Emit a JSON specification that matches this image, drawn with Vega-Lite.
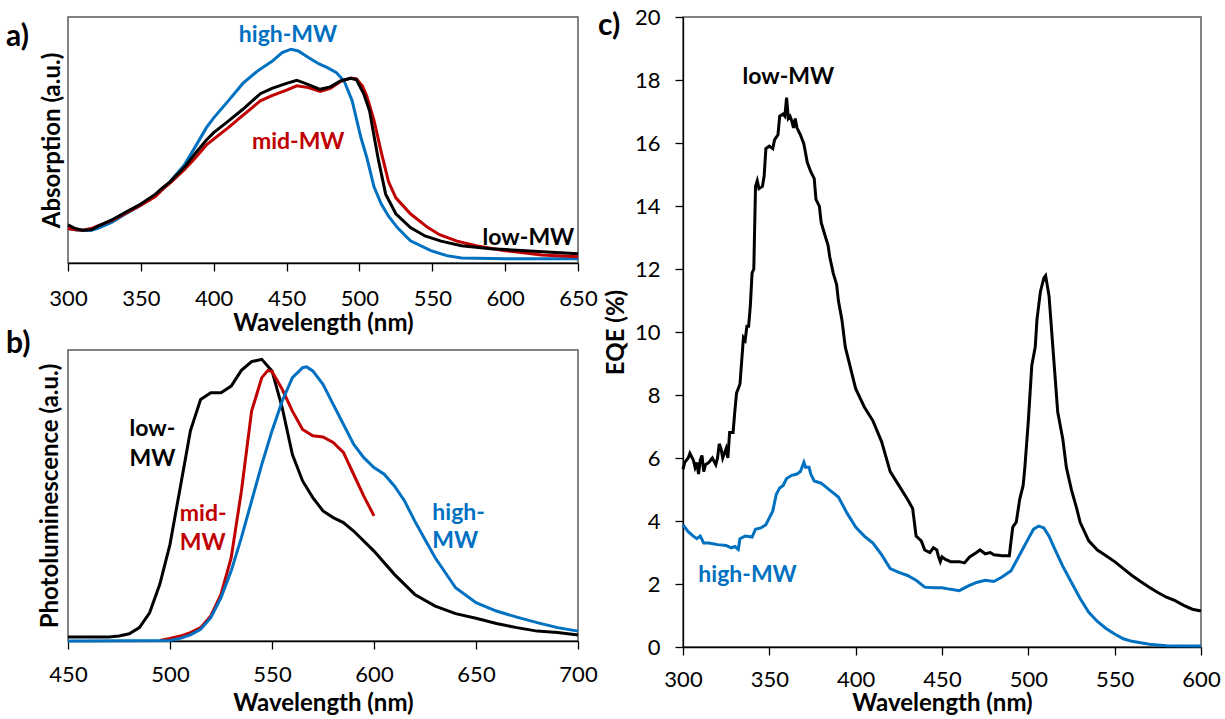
{
  "$schema": "https://vega.github.io/schema/vega-lite/v6.json",
  "padding": {"left": 5, "top": 5, "right": 2, "bottom": 0},
  "background": "white",
  "spacing": -1,
  "config": {
    "font": "Lato",
    "view": {"stroke": "#595959", "strokeWidth": 1.5},
    "axis": {"labelFont": "Lato", "titleFont": "Lato", "labelFontSize": 22, "titleFontSize": 24, "titleFontWeight": "bold", "labelColor": "#000", "titleColor": "#000", "grid": false, "tickSize": 8, "tickColor": "#000", "domainColor": "#000", "tickWidth": 1.3, "domainWidth": 1.3, "labelFlush": false, "labelOverlap": false},
    "title": {"font": "Lato", "fontSize": 30, "fontWeight": "bold", "color": "#000", "anchor": "start", "frame": "group", "offset": 0, "baseline": "alphabetic"}
  },
  "datasets": {
    "abs": [
      {"w":300,"v":0.14,"s":"high-MW"},{"w":305,"v":0.135,"s":"high-MW"},{"w":310,"v":0.132,"s":"high-MW"},{"w":316,"v":0.133,"s":"high-MW"},{"w":320,"v":0.14,"s":"high-MW"},{"w":330,"v":0.165,"s":"high-MW"},{"w":341,"v":0.205,"s":"high-MW"},{"w":350,"v":0.235,"s":"high-MW"},{"w":360,"v":0.275,"s":"high-MW"},{"w":365,"v":0.3,"s":"high-MW"},{"w":370,"v":0.33,"s":"high-MW"},{"w":380,"v":0.4,"s":"high-MW"},{"w":387,"v":0.469,"s":"high-MW"},{"w":395,"v":0.55,"s":"high-MW"},{"w":400,"v":0.59,"s":"high-MW"},{"w":410,"v":0.659,"s":"high-MW"},{"w":420,"v":0.73,"s":"high-MW"},{"w":430,"v":0.78,"s":"high-MW"},{"w":440,"v":0.82,"s":"high-MW"},{"w":447,"v":0.855,"s":"high-MW"},{"w":453,"v":0.869,"s":"high-MW"},{"w":458,"v":0.862,"s":"high-MW"},{"w":465,"v":0.835,"s":"high-MW"},{"w":472,"v":0.81,"s":"high-MW"},{"w":478,"v":0.794,"s":"high-MW"},{"w":484,"v":0.775,"s":"high-MW"},{"w":489.5,"v":0.74,"s":"high-MW"},{"w":495,"v":0.66,"s":"high-MW"},{"w":501,"v":0.51,"s":"high-MW"},{"w":505,"v":0.43,"s":"high-MW"},{"w":510,"v":0.31,"s":"high-MW"},{"w":515,"v":0.24,"s":"high-MW"},{"w":520,"v":0.19,"s":"high-MW"},{"w":526,"v":0.144,"s":"high-MW"},{"w":535,"v":0.09,"s":"high-MW"},{"w":549,"v":0.05,"s":"high-MW"},{"w":560,"v":0.03,"s":"high-MW"},{"w":570,"v":0.02,"s":"high-MW"},{"w":600,"v":0.017,"s":"high-MW"},{"w":650,"v":0.017,"s":"high-MW"},
      {"w":300,"v":0.14,"s":"mid-MW"},{"w":305,"v":0.135,"s":"mid-MW"},{"w":310,"v":0.133,"s":"mid-MW"},{"w":316,"v":0.14,"s":"mid-MW"},{"w":320,"v":0.15,"s":"mid-MW"},{"w":330,"v":0.172,"s":"mid-MW"},{"w":341,"v":0.207,"s":"mid-MW"},{"w":350,"v":0.235,"s":"mid-MW"},{"w":360,"v":0.27,"s":"mid-MW"},{"w":365,"v":0.3,"s":"mid-MW"},{"w":370,"v":0.325,"s":"mid-MW"},{"w":380,"v":0.38,"s":"mid-MW"},{"w":387,"v":0.425,"s":"mid-MW"},{"w":395,"v":0.48,"s":"mid-MW"},{"w":410,"v":0.55,"s":"mid-MW"},{"w":420,"v":0.6,"s":"mid-MW"},{"w":432,"v":0.659,"s":"mid-MW"},{"w":440,"v":0.68,"s":"mid-MW"},{"w":450,"v":0.703,"s":"mid-MW"},{"w":457,"v":0.72,"s":"mid-MW"},{"w":465,"v":0.713,"s":"mid-MW"},{"w":473,"v":0.697,"s":"mid-MW"},{"w":480,"v":0.71,"s":"mid-MW"},{"w":487,"v":0.738,"s":"mid-MW"},{"w":494,"v":0.752,"s":"mid-MW"},{"w":498,"v":0.748,"s":"mid-MW"},{"w":502,"v":0.72,"s":"mid-MW"},{"w":505,"v":0.68,"s":"mid-MW"},{"w":510,"v":0.58,"s":"mid-MW"},{"w":515,"v":0.45,"s":"mid-MW"},{"w":520,"v":0.33,"s":"mid-MW"},{"w":525,"v":0.265,"s":"mid-MW"},{"w":535,"v":0.2,"s":"mid-MW"},{"w":547,"v":0.144,"s":"mid-MW"},{"w":555,"v":0.115,"s":"mid-MW"},{"w":567,"v":0.089,"s":"mid-MW"},{"w":580,"v":0.07,"s":"mid-MW"},{"w":600,"v":0.05,"s":"mid-MW"},{"w":625,"v":0.033,"s":"mid-MW"},{"w":650,"v":0.025,"s":"mid-MW"},
      {"w":300,"v":0.155,"s":"low-MW"},{"w":305,"v":0.14,"s":"low-MW"},{"w":310,"v":0.133,"s":"low-MW"},{"w":316,"v":0.135,"s":"low-MW"},{"w":320,"v":0.148,"s":"low-MW"},{"w":330,"v":0.175,"s":"low-MW"},{"w":341,"v":0.211,"s":"low-MW"},{"w":350,"v":0.24,"s":"low-MW"},{"w":360,"v":0.28,"s":"low-MW"},{"w":365,"v":0.306,"s":"low-MW"},{"w":370,"v":0.33,"s":"low-MW"},{"w":380,"v":0.39,"s":"low-MW"},{"w":387,"v":0.443,"s":"low-MW"},{"w":395,"v":0.5,"s":"low-MW"},{"w":400,"v":0.53,"s":"low-MW"},{"w":410,"v":0.577,"s":"low-MW"},{"w":420,"v":0.625,"s":"low-MW"},{"w":432,"v":0.688,"s":"low-MW"},{"w":440,"v":0.71,"s":"low-MW"},{"w":450,"v":0.73,"s":"low-MW"},{"w":457,"v":0.743,"s":"low-MW"},{"w":465,"v":0.725,"s":"low-MW"},{"w":473,"v":0.706,"s":"low-MW"},{"w":480,"v":0.716,"s":"low-MW"},{"w":487,"v":0.74,"s":"low-MW"},{"w":494,"v":0.751,"s":"low-MW"},{"w":498,"v":0.745,"s":"low-MW"},{"w":503,"v":0.687,"s":"low-MW"},{"w":507,"v":0.618,"s":"low-MW"},{"w":509,"v":0.55,"s":"low-MW"},{"w":513,"v":0.42,"s":"low-MW"},{"w":518,"v":0.28,"s":"low-MW"},{"w":525,"v":0.2,"s":"low-MW"},{"w":535,"v":0.144,"s":"low-MW"},{"w":545,"v":0.11,"s":"low-MW"},{"w":556,"v":0.089,"s":"low-MW"},{"w":570,"v":0.07,"s":"low-MW"},{"w":590,"v":0.058,"s":"low-MW"},{"w":620,"v":0.048,"s":"low-MW"},{"w":650,"v":0.038,"s":"low-MW"}
    ],
    "absLabels": [
      {"w":451,"v":0.925,"t":"high-MW","s":"high-MW"},
      {"w":458,"v":0.49,"t":"mid-MW","s":"mid-MW"},
      {"w":616,"v":0.1,"t":"low-MW","s":"low-MW"}
    ],
    "pl": [
      {"w":450,"v":0.014,"s":"low-MW"},{"w":470,"v":0.014,"s":"low-MW"},{"w":475,"v":0.017,"s":"low-MW"},{"w":480,"v":0.025,"s":"low-MW"},{"w":485,"v":0.046,"s":"low-MW"},{"w":490,"v":0.097,"s":"low-MW"},{"w":495,"v":0.195,"s":"low-MW"},{"w":500,"v":0.332,"s":"low-MW"},{"w":505,"v":0.527,"s":"low-MW"},{"w":510,"v":0.722,"s":"low-MW"},{"w":515,"v":0.83,"s":"low-MW"},{"w":520,"v":0.853,"s":"low-MW"},{"w":525,"v":0.853,"s":"low-MW"},{"w":530,"v":0.876,"s":"low-MW"},{"w":535,"v":0.93,"s":"low-MW"},{"w":540,"v":0.96,"s":"low-MW"},{"w":545,"v":0.968,"s":"low-MW"},{"w":550,"v":0.928,"s":"low-MW"},{"w":555,"v":0.802,"s":"low-MW"},{"w":560,"v":0.641,"s":"low-MW"},{"w":565,"v":0.55,"s":"low-MW"},{"w":570,"v":0.493,"s":"low-MW"},{"w":575,"v":0.447,"s":"low-MW"},{"w":580,"v":0.424,"s":"low-MW"},{"w":585,"v":0.407,"s":"low-MW"},{"w":590,"v":0.378,"s":"low-MW"},{"w":600,"v":0.309,"s":"low-MW"},{"w":610,"v":0.229,"s":"low-MW"},{"w":620,"v":0.16,"s":"low-MW"},{"w":630,"v":0.12,"s":"low-MW"},{"w":640,"v":0.094,"s":"low-MW"},{"w":650,"v":0.078,"s":"low-MW"},{"w":660,"v":0.06,"s":"low-MW"},{"w":670,"v":0.046,"s":"low-MW"},{"w":680,"v":0.034,"s":"low-MW"},{"w":690,"v":0.029,"s":"low-MW"},{"w":700,"v":0.021,"s":"low-MW"},
      {"w":495,"v":0.002,"s":"mid-MW"},{"w":500,"v":0.009,"s":"mid-MW"},{"w":505,"v":0.017,"s":"mid-MW"},{"w":510,"v":0.029,"s":"mid-MW"},{"w":515,"v":0.046,"s":"mid-MW"},{"w":520,"v":0.086,"s":"mid-MW"},{"w":525,"v":0.16,"s":"mid-MW"},{"w":530,"v":0.286,"s":"mid-MW"},{"w":535,"v":0.515,"s":"mid-MW"},{"w":540,"v":0.79,"s":"mid-MW"},{"w":545,"v":0.905,"s":"mid-MW"},{"w":548,"v":0.93,"s":"mid-MW"},{"w":550,"v":0.926,"s":"mid-MW"},{"w":555,"v":0.865,"s":"mid-MW"},{"w":560,"v":0.79,"s":"mid-MW"},{"w":565,"v":0.727,"s":"mid-MW"},{"w":570,"v":0.705,"s":"mid-MW"},{"w":575,"v":0.701,"s":"mid-MW"},{"w":580,"v":0.682,"s":"mid-MW"},{"w":585,"v":0.648,"s":"mid-MW"},{"w":590,"v":0.573,"s":"mid-MW"},{"w":595,"v":0.498,"s":"mid-MW"},{"w":600,"v":0.43,"s":"mid-MW"},
      {"w":450,"v":0.0,"s":"high-MW"},{"w":500,"v":0.002,"s":"high-MW"},{"w":505,"v":0.009,"s":"high-MW"},{"w":510,"v":0.021,"s":"high-MW"},{"w":515,"v":0.04,"s":"high-MW"},{"w":520,"v":0.08,"s":"high-MW"},{"w":525,"v":0.149,"s":"high-MW"},{"w":530,"v":0.241,"s":"high-MW"},{"w":535,"v":0.355,"s":"high-MW"},{"w":540,"v":0.481,"s":"high-MW"},{"w":545,"v":0.607,"s":"high-MW"},{"w":550,"v":0.722,"s":"high-MW"},{"w":555,"v":0.825,"s":"high-MW"},{"w":560,"v":0.905,"s":"high-MW"},{"w":565,"v":0.939,"s":"high-MW"},{"w":567,"v":0.942,"s":"high-MW"},{"w":570,"v":0.928,"s":"high-MW"},{"w":575,"v":0.882,"s":"high-MW"},{"w":580,"v":0.813,"s":"high-MW"},{"w":585,"v":0.745,"s":"high-MW"},{"w":590,"v":0.676,"s":"high-MW"},{"w":595,"v":0.63,"s":"high-MW"},{"w":600,"v":0.596,"s":"high-MW"},{"w":605,"v":0.573,"s":"high-MW"},{"w":610,"v":0.533,"s":"high-MW"},{"w":615,"v":0.481,"s":"high-MW"},{"w":620,"v":0.412,"s":"high-MW"},{"w":625,"v":0.349,"s":"high-MW"},{"w":630,"v":0.286,"s":"high-MW"},{"w":640,"v":0.183,"s":"high-MW"},{"w":650,"v":0.132,"s":"high-MW"},{"w":660,"v":0.103,"s":"high-MW"},{"w":670,"v":0.082,"s":"high-MW"},{"w":680,"v":0.063,"s":"high-MW"},{"w":690,"v":0.046,"s":"high-MW"},{"w":700,"v":0.034,"s":"high-MW"}
    ],
    "plLabels": [
      {"w":480.2,"v":0.729,"t":"low-","s":"low-MW"},
      {"w":480.2,"v":0.625,"t":"MW","s":"low-MW"},
      {"w":504.8,"v":0.436,"t":"mid-","s":"mid-MW"},
      {"w":504.8,"v":0.338,"t":"MW","s":"mid-MW"},
      {"w":628.6,"v":0.441,"t":"high-","s":"high-MW"},
      {"w":628.6,"v":0.344,"t":"MW","s":"high-MW"}
    ],
    "eqe": [
      {"w":300,"v":5.64,"s":"low-MW"},{"w":301,"v":5.86,"s":"low-MW"},{"w":303,"v":6.0,"s":"low-MW"},{"w":304,"v":6.15,"s":"low-MW"},{"w":306,"v":5.93,"s":"low-MW"},{"w":307,"v":5.7,"s":"low-MW"},{"w":308,"v":5.86,"s":"low-MW"},{"w":309,"v":5.49,"s":"low-MW"},{"w":310,"v":5.93,"s":"low-MW"},{"w":311,"v":6.08,"s":"low-MW"},{"w":312,"v":5.57,"s":"low-MW"},{"w":313,"v":5.79,"s":"low-MW"},{"w":315,"v":5.86,"s":"low-MW"},{"w":317,"v":6.0,"s":"low-MW"},{"w":319,"v":5.79,"s":"low-MW"},{"w":320,"v":6.0,"s":"low-MW"},{"w":321,"v":6.45,"s":"low-MW"},{"w":322,"v":6.3,"s":"low-MW"},{"w":323,"v":6.0,"s":"low-MW"},{"w":325,"v":6.3,"s":"low-MW"},{"w":326,"v":6.0,"s":"low-MW"},{"w":327,"v":6.81,"s":"low-MW"},{"w":329,"v":6.81,"s":"low-MW"},{"w":330,"v":7.47,"s":"low-MW"},{"w":331,"v":8.06,"s":"low-MW"},{"w":333,"v":8.35,"s":"low-MW"},{"w":334,"v":9.08,"s":"low-MW"},{"w":335,"v":9.82,"s":"low-MW"},{"w":336,"v":9.74,"s":"low-MW"},{"w":337,"v":10.18,"s":"low-MW"},{"w":338,"v":10.18,"s":"low-MW"},{"w":339,"v":10.84,"s":"low-MW"},{"w":340,"v":11.87,"s":"low-MW"},{"w":341,"v":12.0,"s":"low-MW"},{"w":342,"v":14.62,"s":"low-MW"},{"w":343,"v":14.8,"s":"low-MW"},{"w":344,"v":14.55,"s":"low-MW"},{"w":346,"v":14.62,"s":"low-MW"},{"w":347,"v":14.95,"s":"low-MW"},{"w":348,"v":15.82,"s":"low-MW"},{"w":350,"v":15.9,"s":"low-MW"},{"w":352,"v":15.82,"s":"low-MW"},{"w":353,"v":16.1,"s":"low-MW"},{"w":355,"v":16.26,"s":"low-MW"},{"w":356,"v":16.85,"s":"low-MW"},{"w":358,"v":16.92,"s":"low-MW"},{"w":359,"v":16.85,"s":"low-MW"},{"w":360,"v":17.44,"s":"low-MW"},{"w":361,"v":16.78,"s":"low-MW"},{"w":362,"v":16.85,"s":"low-MW"},{"w":363,"v":16.7,"s":"low-MW"},{"w":364,"v":16.48,"s":"low-MW"},{"w":365,"v":16.78,"s":"low-MW"},{"w":366,"v":16.48,"s":"low-MW"},{"w":368,"v":16.26,"s":"low-MW"},{"w":370,"v":15.97,"s":"low-MW"},{"w":372,"v":15.38,"s":"low-MW"},{"w":374,"v":15.09,"s":"low-MW"},{"w":376,"v":14.87,"s":"low-MW"},{"w":377,"v":14.21,"s":"low-MW"},{"w":379,"v":13.99,"s":"low-MW"},{"w":380,"v":13.48,"s":"low-MW"},{"w":382,"v":13.11,"s":"low-MW"},{"w":384,"v":12.75,"s":"low-MW"},{"w":385,"v":12.38,"s":"low-MW"},{"w":387,"v":11.87,"s":"low-MW"},{"w":389,"v":11.5,"s":"low-MW"},{"w":390,"v":10.99,"s":"low-MW"},{"w":392,"v":10.4,"s":"low-MW"},{"w":394,"v":9.52,"s":"low-MW"},{"w":396,"v":9.08,"s":"low-MW"},{"w":398,"v":8.64,"s":"low-MW"},{"w":400,"v":8.2,"s":"low-MW"},{"w":405,"v":7.62,"s":"low-MW"},{"w":410,"v":7.18,"s":"low-MW"},{"w":415,"v":6.52,"s":"low-MW"},{"w":420,"v":5.57,"s":"low-MW"},{"w":425,"v":5.13,"s":"low-MW"},{"w":430,"v":4.69,"s":"low-MW"},{"w":433,"v":4.4,"s":"low-MW"},{"w":434,"v":3.96,"s":"low-MW"},{"w":435,"v":3.52,"s":"low-MW"},{"w":438,"v":3.37,"s":"low-MW"},{"w":440,"v":3.08,"s":"low-MW"},{"w":443,"v":3.0,"s":"low-MW"},{"w":445,"v":3.15,"s":"low-MW"},{"w":447,"v":3.08,"s":"low-MW"},{"w":448,"v":2.86,"s":"low-MW"},{"w":449,"v":2.71,"s":"low-MW"},{"w":450,"v":2.86,"s":"low-MW"},{"w":452,"v":2.78,"s":"low-MW"},{"w":455,"v":2.71,"s":"low-MW"},{"w":460,"v":2.71,"s":"low-MW"},{"w":463,"v":2.67,"s":"low-MW"},{"w":466,"v":2.86,"s":"low-MW"},{"w":470,"v":3.0,"s":"low-MW"},{"w":472,"v":3.08,"s":"low-MW"},{"w":475,"v":2.96,"s":"low-MW"},{"w":478,"v":3.0,"s":"low-MW"},{"w":480,"v":2.93,"s":"low-MW"},{"w":485,"v":2.9,"s":"low-MW"},{"w":489,"v":2.9,"s":"low-MW"},{"w":490,"v":3.37,"s":"low-MW"},{"w":491,"v":3.81,"s":"low-MW"},{"w":493,"v":3.96,"s":"low-MW"},{"w":495,"v":4.69,"s":"low-MW"},{"w":497,"v":5.13,"s":"low-MW"},{"w":498,"v":5.71,"s":"low-MW"},{"w":500,"v":7.18,"s":"low-MW"},{"w":502,"v":8.94,"s":"low-MW"},{"w":504,"v":9.52,"s":"low-MW"},{"w":505,"v":10.4,"s":"low-MW"},{"w":507,"v":11.28,"s":"low-MW"},{"w":509,"v":11.72,"s":"low-MW"},{"w":510,"v":11.79,"s":"low-MW"},{"w":512,"v":11.14,"s":"low-MW"},{"w":514,"v":9.67,"s":"low-MW"},{"w":515,"v":8.94,"s":"low-MW"},{"w":517,"v":7.47,"s":"low-MW"},{"w":520,"v":6.59,"s":"low-MW"},{"w":522,"v":5.71,"s":"low-MW"},{"w":525,"v":4.98,"s":"low-MW"},{"w":528,"v":4.4,"s":"low-MW"},{"w":530,"v":3.96,"s":"low-MW"},{"w":535,"v":3.37,"s":"low-MW"},{"w":540,"v":3.08,"s":"low-MW"},{"w":545,"v":2.9,"s":"low-MW"},{"w":550,"v":2.71,"s":"low-MW"},{"w":555,"v":2.49,"s":"low-MW"},{"w":560,"v":2.27,"s":"low-MW"},{"w":565,"v":2.08,"s":"low-MW"},{"w":570,"v":1.9,"s":"low-MW"},{"w":575,"v":1.73,"s":"low-MW"},{"w":580,"v":1.58,"s":"low-MW"},{"w":585,"v":1.47,"s":"low-MW"},{"w":590,"v":1.32,"s":"low-MW"},{"w":595,"v":1.2,"s":"low-MW"},{"w":600,"v":1.14,"s":"low-MW"},
      {"w":300,"v":3.88,"s":"high-MW"},{"w":303,"v":3.66,"s":"high-MW"},{"w":306,"v":3.52,"s":"high-MW"},{"w":308,"v":3.44,"s":"high-MW"},{"w":310,"v":3.52,"s":"high-MW"},{"w":312,"v":3.3,"s":"high-MW"},{"w":315,"v":3.3,"s":"high-MW"},{"w":320,"v":3.25,"s":"high-MW"},{"w":325,"v":3.22,"s":"high-MW"},{"w":328,"v":3.15,"s":"high-MW"},{"w":330,"v":3.19,"s":"high-MW"},{"w":332,"v":3.1,"s":"high-MW"},{"w":333,"v":3.44,"s":"high-MW"},{"w":336,"v":3.52,"s":"high-MW"},{"w":340,"v":3.49,"s":"high-MW"},{"w":342,"v":3.74,"s":"high-MW"},{"w":345,"v":3.78,"s":"high-MW"},{"w":348,"v":3.88,"s":"high-MW"},{"w":350,"v":4.1,"s":"high-MW"},{"w":352,"v":4.32,"s":"high-MW"},{"w":354,"v":4.84,"s":"high-MW"},{"w":356,"v":5.05,"s":"high-MW"},{"w":358,"v":5.13,"s":"high-MW"},{"w":360,"v":5.35,"s":"high-MW"},{"w":363,"v":5.45,"s":"high-MW"},{"w":366,"v":5.49,"s":"high-MW"},{"w":368,"v":5.57,"s":"high-MW"},{"w":370,"v":5.86,"s":"high-MW"},{"w":371,"v":5.71,"s":"high-MW"},{"w":373,"v":5.71,"s":"high-MW"},{"w":374,"v":5.49,"s":"high-MW"},{"w":376,"v":5.27,"s":"high-MW"},{"w":380,"v":5.2,"s":"high-MW"},{"w":385,"v":4.98,"s":"high-MW"},{"w":390,"v":4.76,"s":"high-MW"},{"w":395,"v":4.25,"s":"high-MW"},{"w":400,"v":3.81,"s":"high-MW"},{"w":405,"v":3.52,"s":"high-MW"},{"w":410,"v":3.3,"s":"high-MW"},{"w":415,"v":2.93,"s":"high-MW"},{"w":420,"v":2.49,"s":"high-MW"},{"w":425,"v":2.37,"s":"high-MW"},{"w":430,"v":2.27,"s":"high-MW"},{"w":435,"v":2.12,"s":"high-MW"},{"w":440,"v":1.9,"s":"high-MW"},{"w":445,"v":1.88,"s":"high-MW"},{"w":450,"v":1.88,"s":"high-MW"},{"w":455,"v":1.83,"s":"high-MW"},{"w":460,"v":1.79,"s":"high-MW"},{"w":465,"v":1.93,"s":"high-MW"},{"w":470,"v":2.05,"s":"high-MW"},{"w":475,"v":2.12,"s":"high-MW"},{"w":480,"v":2.08,"s":"high-MW"},{"w":485,"v":2.23,"s":"high-MW"},{"w":490,"v":2.42,"s":"high-MW"},{"w":495,"v":2.93,"s":"high-MW"},{"w":500,"v":3.44,"s":"high-MW"},{"w":503,"v":3.74,"s":"high-MW"},{"w":506,"v":3.84,"s":"high-MW"},{"w":509,"v":3.78,"s":"high-MW"},{"w":512,"v":3.52,"s":"high-MW"},{"w":515,"v":3.15,"s":"high-MW"},{"w":520,"v":2.56,"s":"high-MW"},{"w":525,"v":2.05,"s":"high-MW"},{"w":530,"v":1.54,"s":"high-MW"},{"w":535,"v":1.1,"s":"high-MW"},{"w":540,"v":0.81,"s":"high-MW"},{"w":545,"v":0.59,"s":"high-MW"},{"w":550,"v":0.41,"s":"high-MW"},{"w":555,"v":0.26,"s":"high-MW"},{"w":560,"v":0.18,"s":"high-MW"},{"w":570,"v":0.09,"s":"high-MW"},{"w":580,"v":0.04,"s":"high-MW"},{"w":600,"v":0.03,"s":"high-MW"}
    ],
    "eqeLabels": [
      {"w":361,"v":18.1,"t":"low-MW","s":"low-MW"},
      {"w":337.4,"v":2.3,"t":"high-MW","s":"high-MW"}
    ]
  },
  "hconcat": [
    {
      "vconcat": [
        {
          "width": 510, "height": 246,
          "title": {"text": "a)", "dx": -62, "dy": 39},
          "layer": [
            {
              "data": {"name": "abs"},
              "mark": {"type": "line", "strokeWidth": 3},
              "encoding": {
                "x": {"field": "w", "type": "quantitative", "scale": {"domain": [300, 650], "nice": false}, "axis": {"values": [300,350,400,450,500,550,600,650], "title": "Wavelength (nm)", "labelPadding": 17, "titlePadding": 2}},
                "y": {"field": "v", "type": "quantitative", "scale": {"domain": [0, 1], "nice": false}, "axis": {"title": "Absorption (a.u.)", "labels": false, "ticks": false, "domain": false, "titlePadding": 4}},
                "color": {"field": "s", "type": "nominal", "scale": {"domain": ["low-MW", "mid-MW", "high-MW"], "range": ["#000000", "#C00000", "#0070C0"]}, "legend": null},
                "order": {"field": "w", "type": "quantitative"}
              }
            },
            {
              "data": {"name": "absLabels"},
              "mark": {"type": "text", "font": "Lato", "fontSize": 23, "fontWeight": "bold", "align": "center", "baseline": "middle"},
              "encoding": {
                "x": {"field": "w", "type": "quantitative"},
                "y": {"field": "v", "type": "quantitative"},
                "text": {"field": "t"},
                "color": {"field": "s", "type": "nominal", "legend": null}
              }
            }
          ]
        },
        {
          "width": 510, "height": 291,
          "title": {"text": "b)", "dx": -62, "dy": 13},
          "layer": [
            {
              "data": {"name": "pl"},
              "mark": {"type": "line", "strokeWidth": 3},
              "encoding": {
                "x": {"field": "w", "type": "quantitative", "scale": {"domain": [450, 700], "nice": false}, "axis": {"values": [450,500,550,600,650,700], "title": "Wavelength (nm)", "labelPadding": 15, "titlePadding": 6}},
                "y": {"field": "v", "type": "quantitative", "scale": {"domain": [0, 1], "nice": false}, "axis": {"title": "Photoluminescence (a.u.)", "labels": false, "ticks": false, "domain": false, "titlePadding": 6}},
                "color": {"field": "s", "type": "nominal", "scale": {"domain": ["low-MW", "mid-MW", "high-MW"], "range": ["#000000", "#C00000", "#0070C0"]}, "legend": null},
                "order": {"field": "w", "type": "quantitative"}
              }
            },
            {
              "data": {"name": "plLabels"},
              "mark": {"type": "text", "font": "Lato", "fontSize": 23, "fontWeight": "bold", "align": "left", "baseline": "middle"},
              "encoding": {
                "x": {"field": "w", "type": "quantitative"},
                "y": {"field": "v", "type": "quantitative"},
                "text": {"field": "t"},
                "color": {"field": "s", "type": "nominal", "legend": null}
              }
            }
          ]
        }
      ],
      "spacing": 87,
      "bounds": "flush"
    },
    {
      "width": 518, "height": 630,
      "title": {"text": "c)", "dx": -85, "dy": 39},
      "layer": [
        {
          "data": {"name": "eqe"},
          "mark": {"type": "line", "strokeWidth": 3},
          "encoding": {
            "x": {"field": "w", "type": "quantitative", "scale": {"domain": [300, 600], "nice": false}, "axis": {"values": [300,350,400,450,500,550,600], "title": "Wavelength (nm)", "labelPadding": 14, "titlePadding": 1}},
            "y": {"field": "v", "type": "quantitative", "scale": {"domain": [0, 20], "nice": false}, "axis": {"values": [0,2,4,6,8,10,12,14,16,18,20], "title": "EQE (%)", "labelPadding": 15, "titlePadding": 6}},
            "color": {"field": "s", "type": "nominal", "scale": {"domain": ["low-MW", "mid-MW", "high-MW"], "range": ["#000000", "#C00000", "#0070C0"]}, "legend": null},
            "order": {"field": "w", "type": "quantitative"}
          }
        },
        {
          "data": {"name": "eqeLabels"},
          "mark": {"type": "text", "font": "Lato", "fontSize": 23, "fontWeight": "bold", "align": "center", "baseline": "middle"},
          "encoding": {
            "x": {"field": "w", "type": "quantitative"},
            "y": {"field": "v", "type": "quantitative"},
            "text": {"field": "t"},
            "color": {"field": "s", "type": "nominal", "legend": null}
          }
        }
      ]
    }
  ]
}
